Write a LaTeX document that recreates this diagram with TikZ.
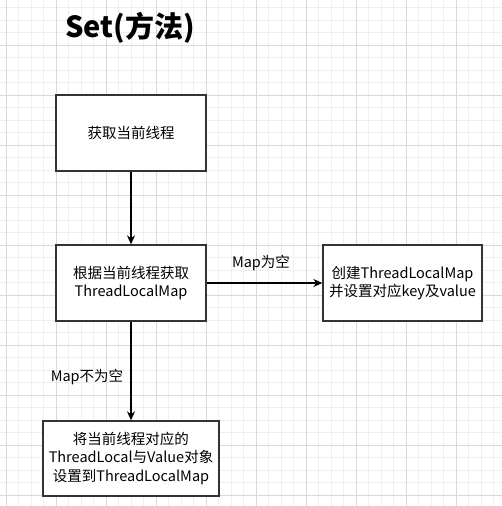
\documentclass[tikz,border=0pt]{standalone}
\usepackage{fontspec}
\setmainfont{Noto Sans CJK SC}
\usetikzlibrary{arrows.meta}
\definecolor{minorgrid}{HTML}{EFEFEF}
\definecolor{majorgrid}{HTML}{D9D9D9}
\definecolor{boxline}{HTML}{333333}
\begin{document}
\begin{tikzpicture}
  [x=1pt,y=-1pt,
   box/.style={draw=boxline,line width=1.3pt,fill=white,inner sep=0pt,align=center,
     font=\fontsize{14.5}{18.5}\selectfont},
   lbl/.style={inner sep=1pt,font=\fontsize{14.5}{18.5}\selectfont},
   link/.style={line width=1.3pt,-{Stealth[length=9pt,width=8pt]}}]
  \useasboundingbox[fill=white] (0,0) rectangle (502,506);

  % grid
  \foreach \i in {0,...,41} {
    \draw[minorgrid,line width=.6pt] ({-6.5+12.5*\i},0) -- ({-6.5+12.5*\i},506);
    \draw[minorgrid,line width=.6pt] (0,{-5+12.5*\i}) -- (502,{-5+12.5*\i});
  }
  \foreach \i in {0,...,10} {
    \draw[majorgrid,line width=.6pt] ({6+50*\i},0) -- ({6+50*\i},506);
    \draw[majorgrid,line width=.6pt] (0,{-5+50*\i}) -- (502,{-5+50*\i});
  }

  \node[font=\fontsize{29}{34}\selectfont\bfseries] (title) at (130,28) {Set(方法)};

  \node[box,minimum width=150pt,minimum height=76pt] (get) at (131,133) {获取当前线程};
  \node[box,minimum width=150pt,minimum height=76pt] (map) at (131,283) {根据当前线程获取\\ThreadLocalMap};
  \node[box,minimum width=159pt,minimum height=76pt] (create) at (402.5,283) {创建ThreadLocalMap\\并设置对应key及value};
  \node[box,minimum width=176pt,minimum height=75pt] (put) at (131,458.5) {将当前线程对应的\\ThreadLocal与Value对象\\设置到ThreadLocalMap};

  \node[lbl] (empty) at (261,263) {Map为空};
  \node[lbl] (notempty) at (87,377) {Map不为空};

  \draw[link] (get) -- (map);
  \draw[link] (map) -- (create);
  \draw[link] (map) -- (put);

\end{tikzpicture}
\end{document}
